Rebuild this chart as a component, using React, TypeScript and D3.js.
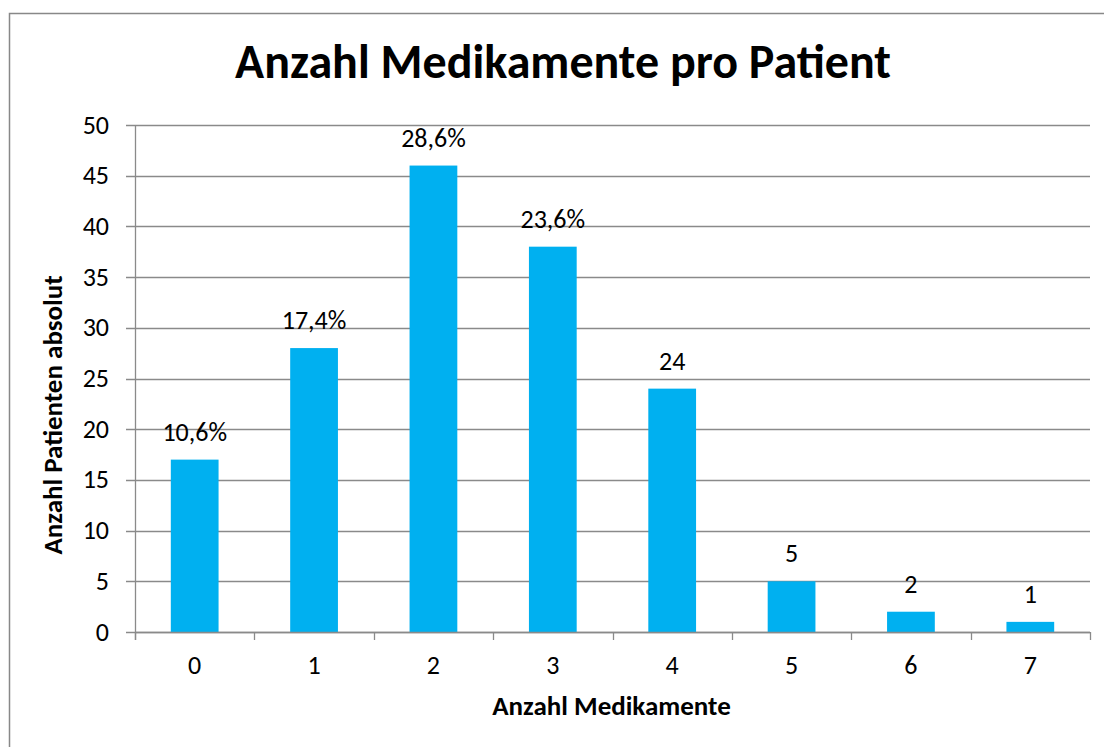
import React from "react";
import * as d3 from "d3";

const categories: string[] = ["0", "1", "2", "3", "4", "5", "6", "7"];
const values: number[] = [17, 28, 46, 38, 24, 5, 2, 1];
const dataLabels: string[] = ["10,6%", "17,4%", "28,6%", "23,6%", "24", "5", "2", "1"];
const yTicks: number[] = [0, 5, 10, 15, 20, 25, 30, 35, 40, 45, 50];

const titleText = "Anzahl Medikamente pro Patient";
const xTitle = "Anzahl Medikamente";
const yTitle = "Anzahl Patienten absolut";

const W = 1104;
const H = 747;
const FONT = "Carlito, 'Liberation Sans', Arial, sans-serif";
const GRID = "#8a8a8a";
const BAR = "#00B0F0";

export default function App() {
  const plotLeft = 135;
  const plotRight = 1090;
  const plotTop = 125;
  const plotBottom = 632;

  const x = d3
    .scaleBand<string>()
    .domain(categories)
    .range([plotLeft, plotRight])
    .paddingInner(0.6)
    .paddingOuter(0.3);
  const y = d3.scaleLinear().domain([0, 50]).range([plotBottom, plotTop]);
  const step = x.step();
  const boundaries = d3.range(categories.length + 1).map((i) => plotLeft + i * step);

  return (
    <svg
      width={W}
      height={H}
      style={{ position: "absolute", left: 0, top: 0, background: "#fff" }}
      fontFamily={FONT}
    >
      <rect x={0} y={0} width={W} height={H} fill="#fff" />
      <rect x={9.5} y={13.5} width={W + 50} height={H + 50} fill="none" stroke="#888" strokeWidth={1.5} />

      {/* gridlines + y ticks */}
      {yTicks.map((t) => (
        <g key={"g" + t}>
          <line x1={126} x2={plotRight} y1={Math.round(y(t)) + 0.5} y2={Math.round(y(t)) + 0.5} stroke={GRID} strokeWidth={1.3} />
          <text x={109} y={y(t) + 8.5} textAnchor="end" fontSize={26} fill="#000">
            {t}
          </text>
        </g>
      ))}

      {/* bars */}
      {values.map((v, i) => (
        <rect
          key={"b" + i}
          x={x(categories[i])!}
          y={y(v)}
          width={x.bandwidth()}
          height={y(0) - y(v)}
          fill={BAR}
        />
      ))}

      {/* axes */}
      <line x1={plotLeft + 0.5} x2={plotLeft + 0.5} y1={plotTop} y2={plotBottom + 8} stroke={GRID} strokeWidth={1.3} />
      <line x1={plotLeft} x2={plotRight} y1={Math.round(y(0)) + 0.5} y2={Math.round(y(0)) + 0.5} stroke={GRID} strokeWidth={1.3} />
      {boundaries.map((bx, i) => (
        <line key={"t" + i} x1={Math.round(bx) + 0.5} x2={Math.round(bx) + 0.5} y1={plotBottom} y2={plotBottom + 8} stroke={GRID} strokeWidth={1.3} />
      ))}

      {/* x tick labels */}
      {categories.map((c) => (
        <text key={"x" + c} x={x(c)! + x.bandwidth() / 2} y={674} textAnchor="middle" fontSize={26} fill="#000">
          {c}
        </text>
      ))}

      {/* data labels */}
      {values.map((v, i) => (
        <text
          key={"l" + i}
          x={x(categories[i])! + x.bandwidth() / 2}
          y={y(v) - 19}
          textAnchor="middle"
          fontSize={26}
          fill="#000"
        >
          {dataLabels[i]}
        </text>
      ))}

      {/* titles */}
      <text x={563} y={78} textAnchor="middle" fontSize={48} fontWeight="bold" fill="#000">
        {titleText}
      </text>
      <text x={611.5} y={715} textAnchor="middle" fontSize={27} fontWeight="bold" fill="#000">
        {xTitle}
      </text>
      <text
        transform={`translate(62,415) rotate(-90)`}
        textAnchor="middle"
        fontSize={27}
        fontWeight="bold"
        fill="#000"
      >
        {yTitle}
      </text>
    </svg>
  );
}
